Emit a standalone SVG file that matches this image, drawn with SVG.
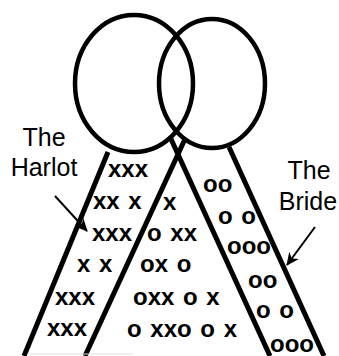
<svg xmlns="http://www.w3.org/2000/svg" width="339" height="356" viewBox="0 0 339 356">
<style>
.ring{fill:none;stroke:#000;stroke-width:4.5}
.band{fill:none;stroke:#000;stroke-width:5;stroke-linecap:butt}
.lbl{font-family:"Liberation Sans",Arial,Helvetica,sans-serif;font-size:25px;fill:#000;text-anchor:middle}
.mk{font-family:"Liberation Sans",Arial,Helvetica,sans-serif;font-size:24px;font-weight:bold;fill:#000;white-space:pre;word-spacing:2px}
.ptr{fill:none;stroke:#000;stroke-width:2}
</style>
<defs>
<marker id="ah" markerUnits="userSpaceOnUse" markerWidth="14" markerHeight="14" refX="12" refY="7" orient="auto">
<path d="M0,1 L13,7 L0,13 L4,7 z" fill="#000"/>
</marker>
</defs>
<rect width="339" height="356" fill="#fff"/>
<g id="circle-left"><ellipse class="ring" cx="134" cy="83.5" rx="59" ry="68.5"/></g>
<g id="circle-right"><ellipse class="ring" cx="212" cy="83.5" rx="53" ry="64.5"/></g>
<g id="connectors">
<line class="band" x1="108" y1="152" x2="24" y2="356"/>
<line class="band" x1="185" y1="139" x2="85" y2="356"/>
<line class="band" x1="171" y1="139" x2="270" y2="356"/>
<line class="band" x1="229" y1="147" x2="324" y2="356"/>
<line class="ptr" x1="55" y1="196" x2="87" y2="231" marker-end="url(#ah)"/>
<line class="ptr" x1="315" y1="227" x2="287" y2="265" marker-end="url(#ah)"/>
<line x1="27" y1="354" x2="133" y2="354" stroke="#ddd" stroke-width="1"/>
</g>
<g id="label-harlot">
<text class="lbl" x="44" y="146">The</text>
<text class="lbl" x="44" y="176">Harlot</text>
</g>
<g id="label-bride">
<text class="lbl" x="309" y="179">The</text>
<text class="lbl" x="308" y="210">Bride</text>
</g>
<g id="harlot-stripe">
<text class="mk" x="108" y="177">xxx</text>
<text class="mk" x="93" y="209">xx x</text>
<text class="mk" x="92" y="241">xxx</text>
<text class="mk" x="77" y="272">x x</text>
<text class="mk" x="55" y="305">xxx</text>
<text class="mk" x="47" y="336">xxx</text>
</g>
<g id="middle">
<text class="mk" x="163" y="210">x</text>
<text class="mk" x="147" y="241">o xx</text>
<text class="mk" x="140" y="272">ox o</text>
<text class="mk" x="133" y="305">oxx o x</text>
<text class="mk" x="127" y="337">o xxo o x</text>
</g>
<g id="bride-stripe">
<text class="mk" x="203" y="192">oo</text>
<text class="mk" x="218" y="224">o o</text>
<text class="mk" x="227" y="254">ooo</text>
<text class="mk" x="248" y="288">oo</text>
<text class="mk" x="256" y="318">o o</text>
<text class="mk" x="270" y="352">ooo</text>
</g>
</svg>
